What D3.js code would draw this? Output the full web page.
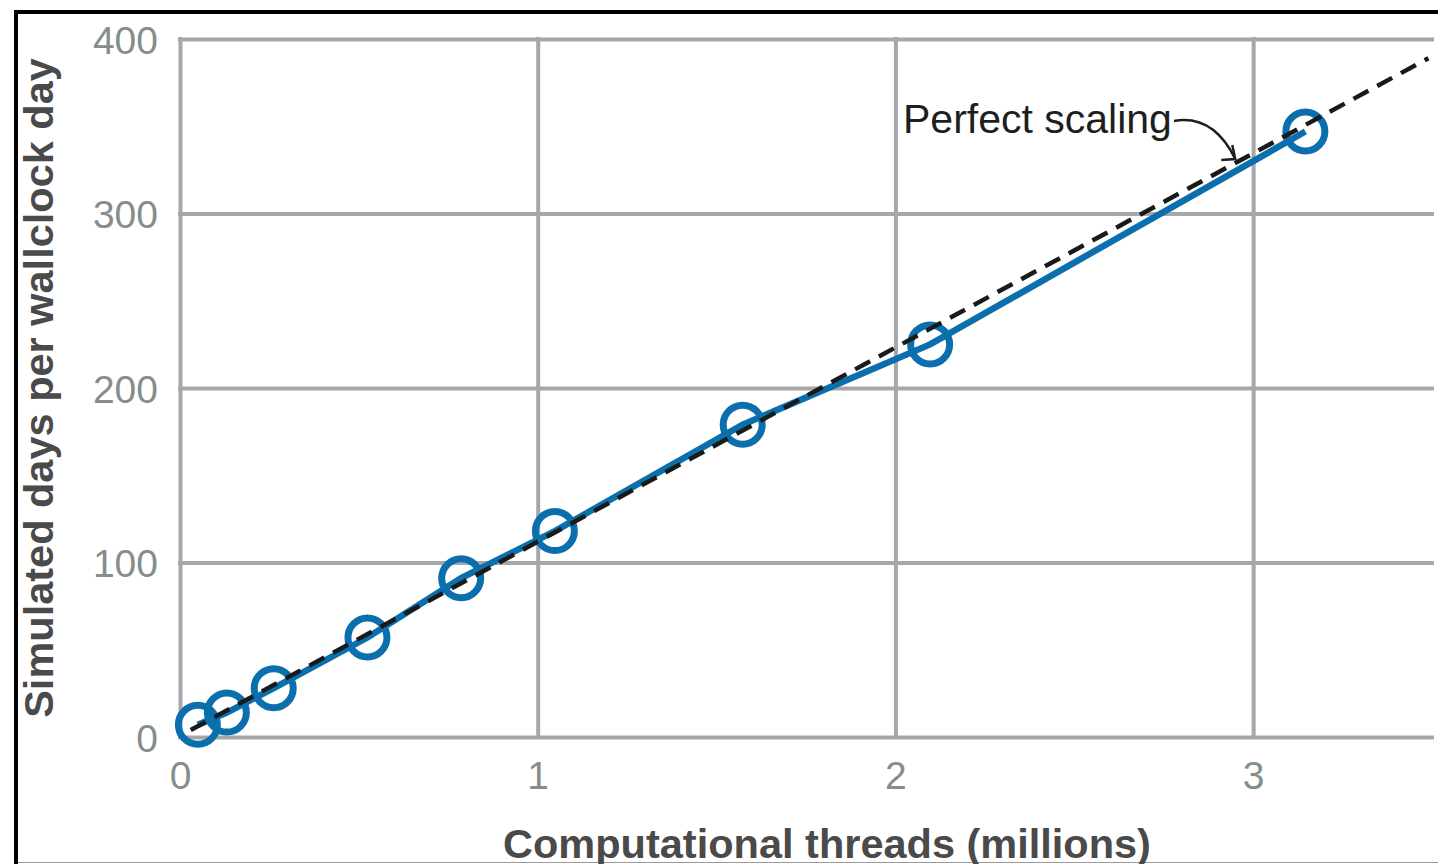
<!DOCTYPE html>
<html>
<head>
<meta charset="utf-8">
<script src="https://cdn.jsdelivr.net/npm/d3@7"></script>
<style>
  html, body { margin: 0; padding: 0; background: #fff; }
  svg { display: block; }
  text { font-family: "Liberation Sans", Arial, Helvetica, sans-serif; }
</style>
</head>
<body>
<svg id="chart" width="1438" height="864"></svg>
<script>
// Computational threads (millions) for each run
const threads = [0.05, 0.131, 0.262, 0.524, 0.786, 1.048, 1.573, 2.097, 3.146];
// Simulated days per wallclock day measured for each run
const simDays = [7, 14, 28, 57, 91, 118, 179, 225, 347];
// Ideal linear-scaling reference line (start and end)
const perfectX = [0.03, 3.49];
const perfectY = [4, 389];
// Tick values
const xTicks = [0, 1, 2, 3];
const yTicks = [0, 100, 200, 300, 400];

const svg = d3.select("#chart");
const W = 1438, H = 864;

const x = d3.scaleLinear().domain([0, 3.5]).range([180, 1432]);
const y = d3.scaleLinear().domain([0, 400]).range([737, 39]);

const gridColor = "#a7a7ab";
const tickColor = "#858d8d";
const blue = "#0b6fae";

// frame: black rules on top and left, thin grey rule at the bottom
svg.append("line").attr("x1", 14).attr("x2", W).attr("y1", 12).attr("y2", 12)
  .attr("stroke", "#000").attr("stroke-width", 4);
svg.append("line").attr("x1", 16).attr("x2", 16).attr("y1", 10).attr("y2", H)
  .attr("stroke", "#000").attr("stroke-width", 4);
svg.append("line").attr("x1", 18).attr("x2", W).attr("y1", 862.5).attr("y2", 862.5)
  .attr("stroke", "#9a9a9a").attr("stroke-width", 1.2);

// y axis with horizontal gridlines
const yAxis = d3.axisLeft(y).tickValues(yTicks)
  .tickSize(-(x.range()[1] - x.range()[0])).tickPadding(20).tickFormat(d3.format("d"));
const gy = svg.append("g").attr("transform", `translate(${x(0)},0)`).call(yAxis);
gy.select(".domain").remove();
gy.selectAll(".tick line").attr("stroke", gridColor).attr("stroke-width", 4)
  .attr("stroke-linecap", "square");
gy.selectAll(".tick text").attr("fill", tickColor).attr("font-size", 39)
  .attr("dy", "0.36em").attr("x", -22);

// x axis with vertical gridlines
const xAxis = d3.axisBottom(x).tickValues(xTicks)
  .tickSize(-(y.range()[0] - y.range()[1])).tickPadding(24).tickFormat(d3.format("d"));
const gx = svg.append("g").attr("transform", `translate(0,${y(0)})`).call(xAxis);
gx.select(".domain").remove();
gx.selectAll(".tick line").attr("stroke", gridColor).attr("stroke-width", 4)
  .attr("stroke-linecap", "square");
gx.selectAll(".tick text").attr("fill", tickColor).attr("font-size", 39)
  .attr("dy", "0.71em").attr("y", 24);

// measured scaling
const pts = threads.map((t, i) => [t, simDays[i]]);
const line = d3.line().x(d => x(d[0])).y(d => y(d[1]));
svg.append("path").datum(pts).attr("d", line)
  .attr("fill", "none").attr("stroke", blue).attr("stroke-width", 6.5);
svg.append("g").selectAll("circle").data(pts).join("circle")
  .attr("cx", d => x(d[0])).attr("cy", d => y(d[1])).attr("r", 19.5)
  .attr("fill", "none").attr("stroke", blue).attr("stroke-width", 7);

// perfect scaling reference
const perfect = perfectX.map((t, i) => [t, perfectY[i]]);
svg.append("path").datum(perfect).attr("d", line)
  .attr("fill", "none").attr("stroke", "#1a1a1a").attr("stroke-width", 4.5)
  .attr("stroke-dasharray", "17,10");

// annotation
const slope = (perfectY[1] - perfectY[0]) / (perfectX[1] - perfectX[0]);
const tipX = 2.95;
const tip = [x(tipX), y(perfectY[0] + slope * (tipX - perfectX[0])) - 4];
svg.append("text").attr("x", 903).attr("y", 133).attr("font-size", 41)
  .attr("fill", "#1e1e1e").text("Perfect scaling");
svg.append("path")
  .attr("d", `M1174,121 C1203,116 1222,132 ${tip[0]},${tip[1]}`)
  .attr("fill", "none").attr("stroke", "#1e1e1e").attr("stroke-width", 2.5);
svg.append("path")
  .attr("d", `M${tip[0] - 3},${tip[1] - 14} L${tip[0]},${tip[1]} L${tip[0] - 14},${tip[1] + 1}`)
  .attr("fill", "none").attr("stroke", "#1e1e1e").attr("stroke-width", 2.5)
  .attr("stroke-linejoin", "miter");

// axis titles
svg.append("text")
  .attr("transform", `translate(53,${(y(0) + y(400)) / 2 + 0}) rotate(-90)`)
  .attr("text-anchor", "middle").attr("font-size", 41.5).attr("font-weight", "bold")
  .attr("fill", "#4a4a4a").text("Simulated days per wallclock day");
svg.append("text")
  .attr("x", 827).attr("y", 858)
  .attr("text-anchor", "middle").attr("font-size", 41.5).attr("font-weight", "bold")
  .attr("fill", "#4a4a4a").text("Computational threads (millions)");
</script>
</body>
</html>
